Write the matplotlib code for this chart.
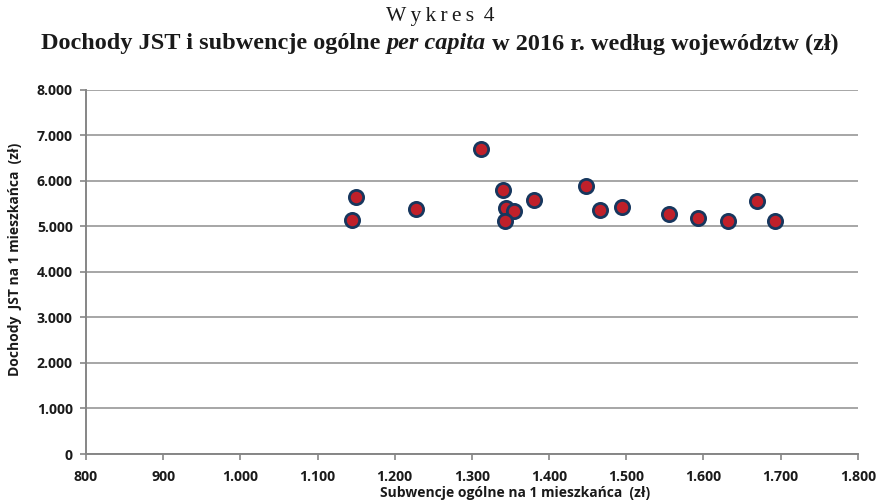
#!/usr/bin/env python3

import matplotlib
matplotlib.use('Agg')
import matplotlib.pyplot as plt
from matplotlib.ticker import FuncFormatter, MultipleLocator

# Subwencje ogólne per capita (x) vs dochody JST per capita (y), 2016
subwencje = [1145, 1150, 1228, 1312, 1341, 1344, 1355, 1343, 1381,
             1448, 1466, 1495, 1556, 1593, 1632, 1670, 1693]
dochody = [5140, 5650, 5380, 6700, 5790, 5405, 5335, 5120, 5565,
           5875, 5365, 5415, 5275, 5170, 5125, 5545, 5115]

title_top = 'W\u2009y\u2009k\u2009r\u2009e\u2009s\u2009 4'
title_parts = [('Dochody JST i subwencje ogólne ', 'normal'),
               ('per capita', 'italic'),
               (' w 2016 r. według województw (zł)', 'normal')]
x_label = 'Subwencje ogólne na 1 mieszkańca  (zł)'
y_label = 'Dochody  JST na 1 mieszkańca  (zł)'

fig = plt.figure(figsize=(8.8, 5.03), dpi=100)
ax = fig.add_axes([0.0977, 0.0974, 0.8770, 0.7246])

ax.scatter(subwencje, dochody, s=105, c='#c0202a', edgecolors='#17375e',
           linewidths=2.0, zorder=3)

ax.set_xlim(800, 1800)
ax.set_ylim(0, 8000)
ax.xaxis.set_major_locator(MultipleLocator(100))
ax.yaxis.set_major_locator(MultipleLocator(1000))
fmt = FuncFormatter(lambda v, p: f'{v:,.0f}'.replace(',', '.'))
ax.xaxis.set_major_formatter(fmt)
ax.yaxis.set_major_formatter(fmt)

ax.grid(axis='y', color='#a6a6a6', linewidth=1.4)
ax.set_axisbelow(True)
for side in ['top', 'right']:
    ax.spines[side].set_visible(False)
for side in ['left', 'bottom']:
    ax.spines[side].set_color('#868686')
    ax.spines[side].set_linewidth(1.4)
ax.tick_params(colors='#868686', length=4.5, width=1.2, labelcolor='#1a1a1a')
ax.tick_params(axis='x', pad=7)
ax.tick_params(axis='y', pad=5)
for lab in ax.get_xticklabels() + ax.get_yticklabels():
    lab.set_fontfamily('Open Sans')
    lab.set_fontweight('bold')
    lab.set_fontsize(10.2)

ax.set_xlabel(x_label, fontfamily='Open Sans', fontweight='bold', fontsize=10,
              color='#1a1a1a', va='center')
ax.xaxis.set_label_coords(0.556, -0.106)
ax.set_ylabel(y_label, fontfamily='Open Sans', fontweight='bold', fontsize=10,
              color='#1a1a1a', va='center')
ax.yaxis.set_label_coords(-0.092, 0.535)

# Titles (serif, mixed style on second line)
fig.text(0.5, 1 - 17 / 503, title_top, ha='center', va='center',
         fontfamily='Liberation Serif', fontsize=15.5, color='#1a1a1a')

renderer = fig.canvas.get_renderer()
texts = []
for s, style in title_parts:
    t = fig.text(0, 1 - 44 / 503, s, ha='left', va='center',
                 fontfamily='Liberation Serif', fontweight='bold',
                 fontstyle=style, fontsize=17.5, color='#1a1a1a')
    texts.append(t)
widths = [t.get_window_extent(renderer).width for t in texts]
x0 = (880 - sum(widths)) / 2
for t, w in zip(texts, widths):
    t.set_x(x0 / 880)
    x0 += w

fig.savefig('out.png', dpi=100)
